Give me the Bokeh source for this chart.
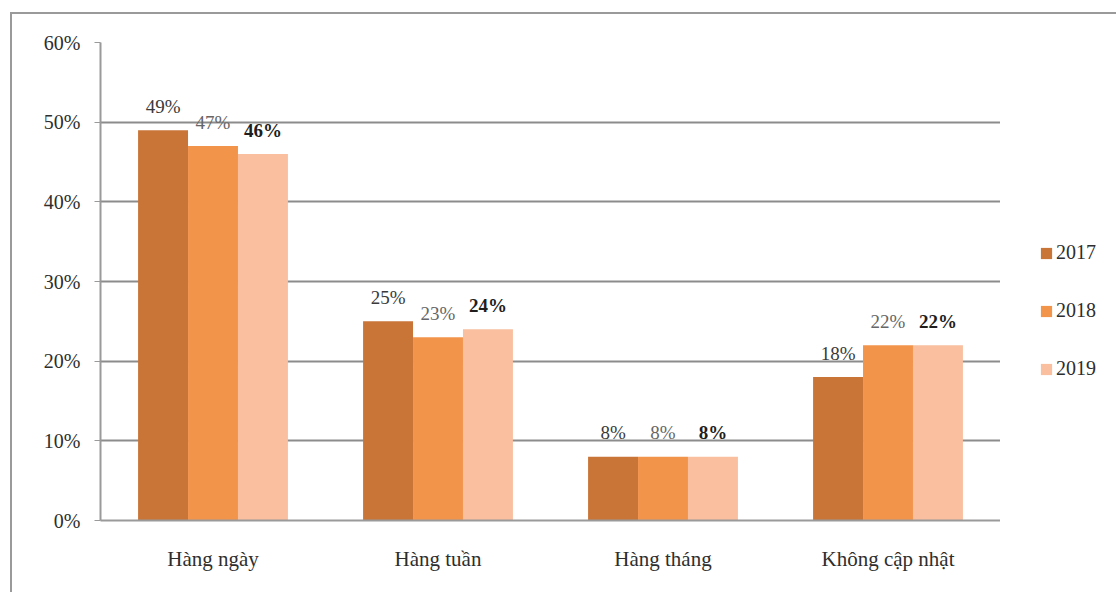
from bokeh.plotting import figure
from bokeh.layouts import row
from bokeh.models import ColumnDataSource, FactorRange, LabelSet, Legend, LegendItem, NumeralTickFormatter, FixedTicker
from bokeh.transform import dodge
from bokeh.core.properties import value
from bokeh.embed import file_html
from bokeh.resources import INLINE

categories = ["Hàng ngày", "Hàng tuần", "Hàng tháng", "Không cập nhật"]
years = ["2017", "2018", "2019"]
v2017 = [0.49, 0.25, 0.08, 0.18]
v2018 = [0.47, 0.23, 0.08, 0.22]
v2019 = [0.46, 0.24, 0.08, 0.22]
colors = ["#c97538", "#f3944b", "#f9bf9f"]
y_ticks = [0, 0.1, 0.2, 0.3, 0.4, 0.5, 0.6]

def pct(vals):
    return ["%d%%" % round(v * 100) for v in vals]

src = ColumnDataSource(dict(
    cat=categories,
    v2017=v2017, v2018=v2018, v2019=v2019,
    l2017=pct(v2017), l2018=pct(v2018), l2019=pct(v2019),
))

FONT = "Liberation Serif"
p = figure(x_range=FactorRange(*categories, range_padding=0), y_range=(0, 0.6),
           width=988, height=578, output_backend="svg", toolbar_location=None,
           min_border_left=88, min_border_right=0, min_border_top=28, min_border_bottom=72)
p.outline_line_color = None
p.background_fill_color = "white"
p.border_fill_color = "white"

bw = 0.222
offsets = [-bw, 0.0, bw]
for yr, off, col in zip(years, offsets, colors):
    p.vbar(x=dodge("cat", off, range=p.x_range), top="v" + yr, width=bw, source=src,
           fill_color=col, line_color=None)

label_styles = [("normal", "#3a3a3a"), ("normal", "#666666"), ("bold", "#1e1e1e")]
for yr, off, (fs, fc) in zip(years, offsets, label_styles):
    ls = LabelSet(x=dodge("cat", off, range=p.x_range), y="v" + yr, text="l" + yr, source=src,
                  text_align="center", text_baseline="middle", y_offset=24,
                  text_font=value(FONT), text_font_size="19px", text_font_style=fs,
                  text_color=fc)
    p.add_layout(ls)

# axes
p.yaxis.ticker = FixedTicker(ticks=y_ticks)
p.yaxis.formatter = NumeralTickFormatter(format="0%")
p.yaxis.axis_line_color = "#9a9a9a"
p.yaxis.axis_line_width = 2
p.yaxis.major_tick_line_color = "#9a9a9a"
p.yaxis.major_tick_out = 6
p.yaxis.major_tick_in = 0
p.yaxis.minor_tick_line_color = None
p.yaxis.major_label_text_font = FONT
p.yaxis.major_label_text_font_size = "20px"
p.yaxis.major_label_text_color = "#2e2e2e"
p.yaxis.major_label_standoff = 14

p.xaxis.axis_line_color = "#9a9a9a"
p.xaxis.axis_line_width = 2
p.xaxis.major_tick_line_color = None
p.xaxis.major_tick_out = 0
p.xaxis.major_label_text_font = FONT
p.xaxis.major_label_text_font_size = "21px"
p.xaxis.major_label_text_color = "#2e2e2e"
p.xaxis.major_label_standoff = 26

p.xgrid.grid_line_color = None
p.ygrid.grid_line_color = "#8c8c8c"
p.ygrid.grid_line_width = 2

# legend panel
lp = figure(width=116, height=578, x_range=(0, 1), y_range=(0, 1),
            output_backend="svg", toolbar_location=None,
            min_border=0, min_border_left=0, min_border_right=0, min_border_top=0, min_border_bottom=0)
lp.axis.visible = False
lp.grid.visible = False
lp.outline_line_color = None
lp.background_fill_color = "white"
lp.border_fill_color = "white"
items = []
for yr, col in zip(years, colors):
    r = lp.vbar(x=[0.5], top=[0], bottom=[0], width=0.1, fill_color=col, line_color=None)
    items.append(LegendItem(label=yr, renderers=[r]))
legend = Legend(items=items, location=(39, 140), orientation="vertical",
                glyph_width=14, glyph_height=14, label_standoff=3,
                label_text_font=FONT, label_text_font_size="20px", label_text_color="#2e2e2e",
                spacing=35, padding=0, margin=0, border_line_color=None,
                background_fill_alpha=0)
lp.add_layout(legend, "center")

layout = row(p, lp, spacing=0)
layout.styles = {"margin-left": "10px", "margin-top": "12px",
                 "border-left": "2px solid #9a9a9a", "border-top": "2px solid #9a9a9a"}

open("out.html", "w").write(file_html(layout, INLINE))
